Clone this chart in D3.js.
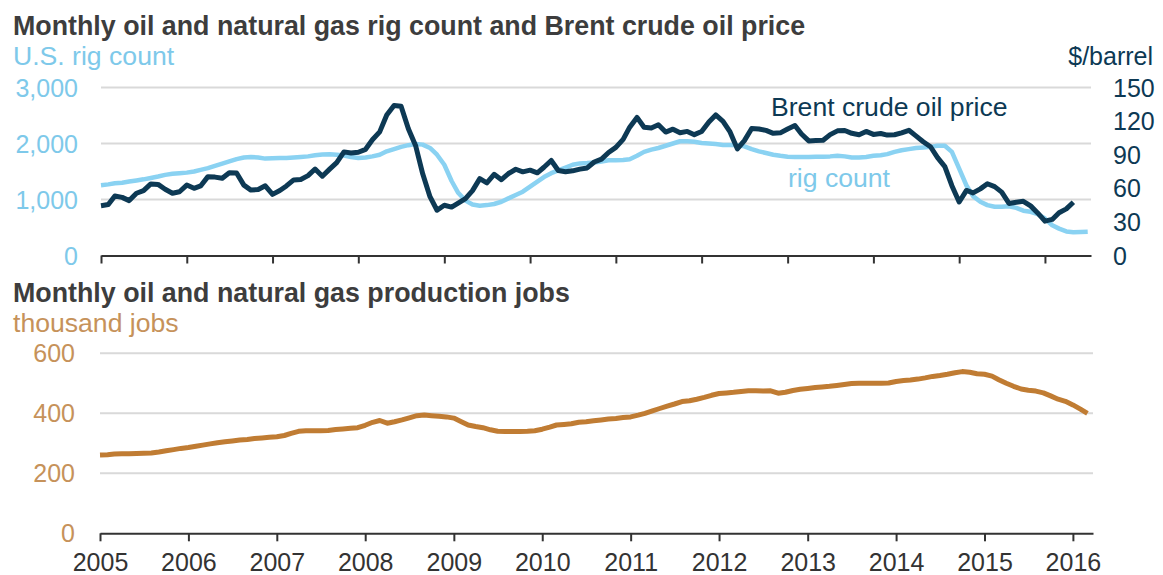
<!DOCTYPE html>
<html>
<head>
<meta charset="utf-8">
<script src="https://d3js.org/d3.v7.min.js"></script>
<style>
  body { margin: 0; background: #fff; }
  svg { display: block; font-family: "Liberation Sans", Arial, sans-serif; }
</style>
</head>
<body>
<script>
// Monthly values, first month is January 2005
const brentPrice = [
  44.5, 45.5, 53.1, 51.9, 49.0, 55.6, 57.9, 63.9, 63.5, 59.1, 55.6, 56.9,
  62.9, 60.0, 62.1, 70.4, 70.0, 68.9, 73.9, 73.6, 62.8, 58.4, 58.9, 62.2,
  54.6, 58.0, 62.1, 67.5, 67.9, 71.3, 77.2, 70.8, 77.1, 82.9, 92.5, 91.5,
  92.2, 94.8, 103.3, 110.4, 125.5, 134.0, 133.2, 113.2, 98.0, 72.9, 52.5, 40.4,
  44.9, 43.2, 46.8, 50.8, 57.9, 68.6, 64.9, 72.5, 67.7, 73.2, 77.0, 74.7,
  76.2, 73.8, 78.8, 84.8, 75.9, 74.8, 75.6, 77.1, 78.2, 83.5, 86.1, 92.0,
  96.5, 103.7, 114.6, 123.3, 114.5, 113.9, 116.7, 110.2, 112.8, 109.6, 110.8, 107.9,
  110.7, 119.3, 125.5, 119.8, 110.3, 95.2, 102.6, 113.4, 112.9, 111.7, 109.1, 109.5,
  113.0, 116.1, 108.5, 102.3, 102.6, 102.9, 107.9, 111.3, 111.6, 109.1, 107.8, 110.8,
  108.1, 108.9, 107.5, 107.8, 109.5, 111.8, 106.8, 101.6, 97.1, 87.4, 79.4, 62.3,
  47.8, 58.1, 55.9, 59.5, 64.1, 61.5, 56.6, 46.5, 47.6, 48.4, 44.3, 38.0,
  30.7, 32.2, 38.2, 41.6, 47.5
];

const rigCount = [
  1255, 1270, 1290, 1300, 1320, 1340, 1360, 1385, 1410, 1440, 1460, 1470,
  1480, 1500, 1530, 1560, 1600, 1640, 1680, 1720, 1750, 1760, 1750, 1730,
  1735, 1740, 1740, 1750, 1760, 1770, 1790, 1805, 1810, 1800, 1785, 1760,
  1740, 1750, 1770, 1800, 1860, 1900, 1940, 1970, 1990, 1980, 1920, 1800,
  1620, 1330, 1120, 980, 910, 890, 900, 920, 960, 1020, 1080, 1140,
  1230, 1320, 1400, 1470, 1520, 1570, 1620, 1645, 1650, 1660, 1680, 1700,
  1700, 1705, 1720, 1780, 1850, 1890, 1920, 1960, 2000, 2040, 2040, 2030,
  2010, 2000, 1990, 1975, 1975, 1970, 1950, 1900, 1860, 1830, 1800, 1780,
  1765, 1760, 1760, 1760, 1765, 1765, 1770, 1780, 1770, 1750, 1750, 1760,
  1780, 1790, 1810, 1850, 1880, 1900, 1920, 1930, 1940, 1960, 1960, 1850,
  1550, 1250, 1060, 960, 900, 870, 870, 880, 850, 800, 780, 740,
  660, 540, 480, 430, 415, 420, 425
];

const productionJobs = [
  261, 262, 264, 265, 265, 266, 267, 268, 271, 275, 279, 283,
  286, 290, 294, 298, 302, 305, 308, 311, 313, 316, 318, 320,
  322, 326, 333, 340, 342, 342, 342, 343, 346, 348, 350, 352,
  360, 370, 376, 367, 372, 378, 385, 392, 394, 392, 390, 388,
  384, 372, 361, 356, 352, 345, 340, 339, 339, 339, 340, 342,
  347, 354, 361, 363, 365, 370, 372, 375, 378, 381, 383, 386,
  388, 394, 400, 408, 416, 424, 431, 439, 442, 447, 453, 460,
  466, 468, 470, 473, 475, 475, 474, 475, 467, 470, 476, 480,
  483, 486, 488, 490, 493, 496, 499, 500, 500, 500, 500, 501,
  506, 509, 511, 514, 518, 523, 526, 530, 535, 539, 537, 532,
  530, 524, 512, 500, 490, 481, 477, 474, 468, 458, 447, 440,
  428, 414, 400
];

const yearTicks = d3.range(2005, 2017);
const rigTicks = [0, 1000, 2000, 3000];
const priceTicks = [0, 30, 60, 90, 120, 150];
const jobTicks = [0, 200, 400, 600];

const width = 1163, height = 575;
const titleColor = "#3d3d3d";
const rigColor = "#8ad2f2";
const rigText = "#7ec9ea";
const brentColor = "#0d3954";
const jobColor = "#c07c33";
const jobText = "#c6925a";
const gridColor = "#d9d9d9";
const axisColor = "#333";
const titleSize = "26.8px";
const labelSize = "26.6px";
const tickSize = "25px";

const svg = d3.select("body")
  .append("svg")
  .attr("width", width)
  .attr("height", height);

const month = i => new Date(2005, i, 1);

// ---------- top panel ----------
const xTop = d3.scaleTime()
  .domain([new Date(2005, 0, 1), new Date(2016, 6, 15)])
  .range([101, 1091]);
const yRig = d3.scaleLinear().domain([0, 3000]).range([255.5, 87.5]);
const yPrice = d3.scaleLinear().domain([0, 150]).range([255.5, 87.5]);

svg.append("text")
  .attr("x", 13).attr("y", 35)
  .style("font-size", titleSize).style("font-weight", "bold")
  .style("fill", titleColor)
  .text("Monthly oil and natural gas rig count and Brent crude oil price");

svg.append("text")
  .attr("x", 13).attr("y", 65)
  .style("font-size", labelSize).style("fill", rigText)
  .text("U.S. rig count");

svg.append("text")
  .attr("x", 1153).attr("y", 65)
  .attr("text-anchor", "end")
  .style("font-size", tickSize).style("fill", brentColor)
  .text("$/barrel");

// gridlines
svg.append("g")
  .selectAll("line")
  .data(rigTicks.filter(d => d > 0))
  .join("line")
  .attr("x1", xTop.range()[0]).attr("x2", xTop.range()[1])
  .attr("y1", d => yRig(d)).attr("y2", d => yRig(d))
  .attr("stroke", gridColor).attr("stroke-width", 2);

// left axis labels
svg.append("g")
  .selectAll("text")
  .data(rigTicks)
  .join("text")
  .attr("x", 78).attr("y", d => yRig(d) + 9)
  .attr("text-anchor", "end")
  .style("font-size", tickSize).style("fill", rigText)
  .text(d => d3.format(",")(d));

// right axis labels
svg.append("g")
  .selectAll("text")
  .data(priceTicks)
  .join("text")
  .attr("x", 1113).attr("y", d => yPrice(d) + 9)
  .style("font-size", tickSize).style("fill", brentColor)
  .text(d => d);

// x axis (no labels)
const axTop = svg.append("g")
  .attr("transform", `translate(0,${yRig(0)})`)
  .call(d3.axisBottom(xTop)
    .tickValues(yearTicks.map(y => new Date(y, 0, 1)))
    .tickSize(8).tickSizeOuter(0).tickFormat(""));
axTop.select(".domain").attr("stroke", axisColor).attr("stroke-width", 2);
axTop.selectAll(".tick line").attr("stroke", axisColor).attr("stroke-width", 2);

const rigLine = d3.line()
  .x((d, i) => xTop(month(i)))
  .y(d => yRig(d));
const priceLine = d3.line()
  .x((d, i) => xTop(month(i)))
  .y(d => yPrice(d));

svg.append("path")
  .datum(rigCount)
  .attr("d", rigLine)
  .attr("fill", "none")
  .attr("stroke", rigColor)
  .attr("stroke-width", 4.5)
  .attr("stroke-linejoin", "round");

svg.append("path")
  .datum(brentPrice)
  .attr("d", priceLine)
  .attr("fill", "none")
  .attr("stroke", brentColor)
  .attr("stroke-width", 5)
  .attr("stroke-linejoin", "round");

svg.append("text")
  .attr("x", 771).attr("y", 116)
  .style("font-size", labelSize).style("fill", brentColor)
  .text("Brent crude oil price");

svg.append("text")
  .attr("x", 788).attr("y", 187)
  .style("font-size", labelSize).style("fill", rigText)
  .text("rig count");

// ---------- bottom panel ----------
const xBot = d3.scaleTime()
  .domain([new Date(2005, 0, 1), new Date(2016, 2, 24)])
  .range([100, 1093]);
const yJobs = d3.scaleLinear().domain([0, 600]).range([533.3, 353.3]);

svg.append("text")
  .attr("x", 13).attr("y", 302)
  .style("font-size", titleSize).style("font-weight", "bold")
  .style("fill", titleColor)
  .text("Monthly oil and natural gas production jobs");

svg.append("text")
  .attr("x", 13).attr("y", 332)
  .style("font-size", labelSize).style("fill", jobText)
  .text("thousand jobs");

svg.append("g")
  .selectAll("line")
  .data(jobTicks.filter(d => d > 0))
  .join("line")
  .attr("x1", xBot.range()[0]).attr("x2", xBot.range()[1])
  .attr("y1", d => yJobs(d)).attr("y2", d => yJobs(d))
  .attr("stroke", gridColor).attr("stroke-width", 2);

svg.append("g")
  .selectAll("text")
  .data(jobTicks)
  .join("text")
  .attr("x", 75).attr("y", d => yJobs(d) + 9)
  .attr("text-anchor", "end")
  .style("font-size", tickSize).style("fill", jobText)
  .text(d => d);

const axBot = svg.append("g")
  .attr("transform", `translate(0,${yJobs(0)})`)
  .call(d3.axisBottom(xBot)
    .tickValues(yearTicks.map(y => new Date(y, 0, 1)))
    .tickSize(8).tickSizeOuter(0).tickPadding(12)
    .tickFormat(d3.timeFormat("%Y")));
axBot.select(".domain").attr("stroke", axisColor).attr("stroke-width", 2);
axBot.selectAll(".tick line").attr("stroke", axisColor).attr("stroke-width", 2);
axBot.selectAll(".tick text")
  .style("font-size", tickSize)
  .style("font-family", "'Liberation Sans', Arial, sans-serif")
  .attr("fill", "#333");

const jobLine = d3.line()
  .x((d, i) => xBot(month(i)))
  .y(d => yJobs(d));

svg.append("path")
  .datum(productionJobs)
  .attr("d", jobLine)
  .attr("fill", "none")
  .attr("stroke", jobColor)
  .attr("stroke-width", 5)
  .attr("stroke-linejoin", "round");
</script>
</body>
</html>
